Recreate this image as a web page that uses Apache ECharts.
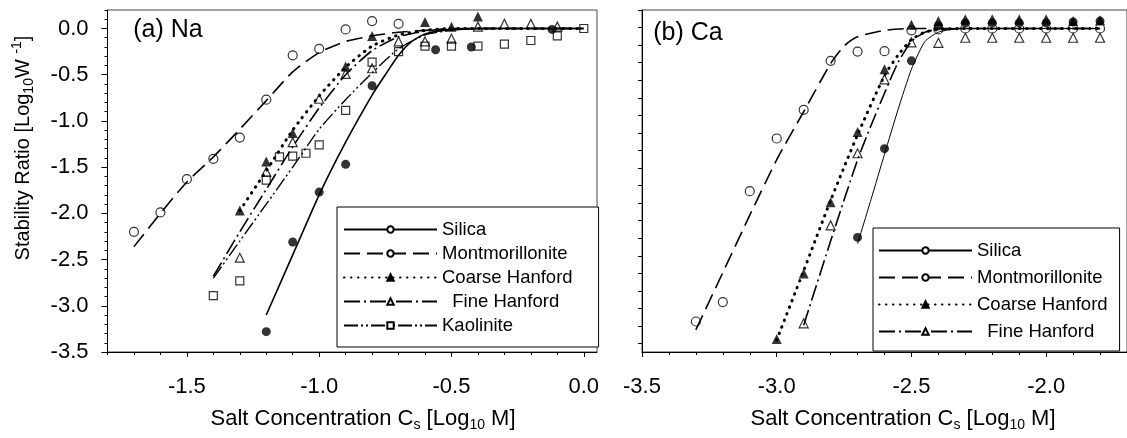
<!DOCTYPE html>
<html>
<head>
<meta charset="utf-8">
<script src="https://cdn.jsdelivr.net/npm/echarts@6/dist/echarts.min.js"></script>
<style>
  html, body { margin: 0; padding: 0; background: #fff; }
  #chart { width: 1127px; height: 438px; }
</style>
</head>
<body>
<div id="chart"></div>
<script>
// ---------- Panel (a): Na ----------
// measured points
const naSilicaX = [-1.2, -1.1, -1.0, -0.9, -0.8, -0.56, -0.425, -0.12];
const naSilicaY = [-3.28, -2.31, -1.77, -1.47, -0.62, -0.23, -0.20, -0.01];
const naMontX = [-1.7, -1.6, -1.5, -1.4, -1.3, -1.2, -1.1, -1.0, -0.9, -0.8, -0.7];
const naMontY = [-2.20, -1.99, -1.63, -1.41, -1.18, -0.77, -0.29, -0.22, -0.01, 0.08, 0.05];
const naCoarseX = [-1.3, -1.2, -1.1, -0.9, -0.8, -0.6, -0.5, -0.4];
const naCoarseY = [-1.97, -1.44, -1.13, -0.41, -0.08, 0.07, 0.02, 0.13];
const naFineX = [-1.3, -1.2, -1.1, -1.0, -0.9, -0.8, -0.7, -0.6, -0.5, -0.4, -0.3, -0.2, -0.1];
const naFineY = [-2.48, -1.55, -1.23, -0.76, -0.49, -0.43, -0.14, -0.14, -0.11, 0.02, 0.05, 0.05, 0.02];
const naKaolX = [-1.4, -1.3, -1.2, -1.15, -1.1, -1.05, -1.0, -0.9, -0.8, -0.7, -0.6, -0.5, -0.4, -0.3, -0.2, -0.1, 0.0];
const naKaolY = [-2.89, -2.73, -1.64, -1.39, -1.38, -1.35, -1.26, -0.885, -0.365, -0.25, -0.19, -0.19, -0.19, -0.17, -0.13, -0.08, 0.0];

// fitted curves
const naSilicaFitX = [-1.2, -1.1, -1.0, -0.9, -0.8, -0.75, -0.7, -0.65, -0.6, -0.5, -0.4, 0.0];
const naSilicaFitY = [-3.10, -2.45, -1.80, -1.23, -0.72, -0.50, -0.29, -0.14, -0.06, -0.01, 0, 0];
const naMontFitX = [-1.7, -1.6, -1.5, -1.4, -1.3, -1.2, -1.1, -1.0, -0.9, -0.8, -0.7, -0.6, -0.5, -0.4, 0.0];
const naMontFitY = [-2.36, -2.00, -1.66, -1.39, -1.09, -0.78, -0.47, -0.26, -0.14, -0.08, -0.04, -0.02, -0.01, 0, 0];
const naCoarseFitX = [-1.3, -1.2, -1.1, -1.0, -0.9, -0.8, -0.7, -0.6, -0.5, 0.0];
const naCoarseFitY = [-1.97, -1.54, -1.10, -0.73, -0.42, -0.19, -0.07, -0.02, 0, 0];
const naFineFitX = [-1.4, -1.3, -1.2, -1.1, -1.0, -0.9, -0.8, -0.7, -0.6, -0.5, 0.0];
const naFineFitY = [-2.68, -2.20, -1.74, -1.28, -0.86, -0.50, -0.24, -0.09, -0.03, 0, 0];
const naKaolFitX = [-1.4, -1.3, -1.2, -1.1, -1.0, -0.9, -0.8, -0.7, -0.6, -0.5, -0.4, 0.0];
const naKaolFitY = [-2.70, -2.30, -1.90, -1.50, -1.09, -0.77, -0.48, -0.22, -0.07, -0.02, 0, 0];

// ---------- Panel (b): Ca ----------
const caSilicaX = [-2.7, -2.6, -2.5, -2.4, -2.3, -2.2, -2.1, -2.0, -1.9, -1.8];
const caSilicaY = [-2.26, -1.30, -0.35, 0.03, 0.06, 0.06, 0.06, 0.06, 0.07, 0.08];
const caMontX = [-3.3, -3.2, -3.1, -3.0, -2.9, -2.8, -2.7, -2.6, -2.5, -2.4, -2.3, -2.2, -2.1, -2.0, -1.9, -1.8];
const caMontY = [-3.17, -2.96, -1.76, -1.19, -0.88, -0.35, -0.25, -0.245, -0.02, -0.01, 0, 0, 0, 0, 0, 0];
const caCoarseX = [-3.0, -2.9, -2.8, -2.7, -2.6, -2.5, -2.4, -2.3, -2.2, -2.1, -2.0, -1.9, -1.8];
const caCoarseY = [-3.36, -2.65, -1.88, -1.12, -0.44, 0.04, 0.08, 0.10, 0.10, 0.10, 0.10, 0.08, 0.09];
const caFineX = [-2.9, -2.8, -2.7, -2.6, -2.5, -2.4, -2.3, -2.2, -2.1, -2.0, -1.9, -1.8];
const caFineY = [-3.19, -2.13, -1.35, -0.55, -0.15, -0.155, -0.10, -0.10, -0.10, -0.10, -0.10, -0.10];

const caSilicaFitX = [-2.7, -2.65, -2.6, -2.55, -2.5, -2.45, -2.4, -2.35, -2.3, -1.8];
const caSilicaFitY = [-2.33, -1.85, -1.36, -0.88, -0.44, -0.14, -0.04, -0.01, 0, 0];
const caMontFitX = [-3.3, -3.2, -3.1, -3.0, -2.9, -2.8, -2.75, -2.7, -2.6, -2.5, -1.8];
const caMontFitY = [-3.26, -2.64, -2.02, -1.42, -0.90, -0.38, -0.19, -0.09, -0.02, 0, 0];
const caCoarseFitX = [-3.0, -2.9, -2.8, -2.7, -2.6, -2.55, -2.5, -2.45, -2.4, -2.3, -1.8];
const caCoarseFitY = [-3.37, -2.62, -1.86, -1.15, -0.51, -0.29, -0.12, -0.04, -0.01, 0, 0];
const caFineFitX = [-2.9, -2.8, -2.7, -2.65, -2.6, -2.55, -2.5, -2.45, -2.4, -2.3, -1.8];
const caFineFitY = [-3.21, -2.30, -1.42, -1.05, -0.70, -0.37, -0.14, -0.04, -0.01, 0, 0];

// ---------- axis ticks ----------
const naMajorX = [-1.5, -1.0, -0.5, 0.0];
const caMajorX = [-3.5, -3.0, -2.5, -2.0];
const majorY = [0.0, -0.5, -1.0, -1.5, -2.0, -2.5, -3.0, -3.5];
const legendNames = ['Silica', 'Montmorillonite', 'Coarse Hanford', 'Fine Hanford', 'Kaolinite'];

function steps(from, to, step) {
  const out = [];
  const n = Math.round((to - from) / step);
  for (let i = 0; i <= n; i++) out.push(+(from + i * step).toFixed(3));
  return out;
}
const naMinorX = steps(-1.8, 0.0, 0.1);
const caMinorX = steps(-3.5, -1.7, 0.1);
const minorY = steps(-3.5, 0.2, 0.1);
const caTickY = [];
for (let k = 0; k <= 19; k++) caTickY.push(+(0.2 - 0.19 * k).toFixed(3));

function pairs(xs, ys) { return xs.map((x, i) => [x, ys[i]]); }

const FONT = '"Liberation Sans", Arial, Helvetica, sans-serif';
const BLACK = '#000';
const HOLLOW = 'rgba(0,0,0,0)';

// line and marker look of each material
const look = {
  'Silica':          { symbol: 'circle',   size: 9,  filled: true,  legendFill: '#fff', dash: 'solid',          width: 1.6, cap: 'butt' },
  'Montmorillonite': { symbol: 'circle',   size: 9,  filled: false, legendFill: '#fff', dash: [16, 7],          width: 1.6, cap: 'butt' },
  'Coarse Hanford':  { symbol: 'triangle', size: 10, filled: true,  legendFill: BLACK,  dash: [0.5, 6.5],       width: 3,   cap: 'round' },
  'Fine Hanford':    { symbol: 'triangle', size: 9,  filled: false, legendFill: '#fff', dash: [16, 4, 2, 4],    width: 1.6, cap: 'butt' },
  'Kaolinite':       { symbol: 'rect',     size: 8,  filled: false, legendFill: '#fff', dash: [14, 3, 2, 3, 2, 3], width: 1.4, cap: 'butt' }
};

function fitSeries(name, xs, ys, axis, widthOverride) {
  const l = look[name];
  return {
    name, type: 'line', xAxisIndex: axis, yAxisIndex: axis,
    data: pairs(xs, ys), smooth: 0.2,
    symbol: l.symbol, showSymbol: false, silent: true,
    lineStyle: { color: BLACK, width: widthOverride || l.width, type: l.dash, cap: l.cap },
    itemStyle: { color: l.legendFill, borderColor: BLACK, borderWidth: 1 },
    z: 3
  };
}
function pointSeries(name, label, xs, ys, axis) {
  const l = look[name];
  return {
    name: label, type: 'scatter', xAxisIndex: axis, yAxisIndex: axis,
    data: pairs(xs, ys), symbol: l.symbol, symbolSize: l.size, silent: true,
    itemStyle: l.filled ? { color: BLACK } : { color: HOLLOW, borderColor: BLACK, borderWidth: 1.2 },
    z: 4
  };
}

const series = [
  fitSeries('Silica', naSilicaFitX, naSilicaFitY, 0),
  fitSeries('Montmorillonite', naMontFitX, naMontFitY, 0),
  fitSeries('Coarse Hanford', naCoarseFitX, naCoarseFitY, 0),
  fitSeries('Fine Hanford', naFineFitX, naFineFitY, 0),
  fitSeries('Kaolinite', naKaolFitX, naKaolFitY, 0),
  pointSeries('Silica', 'Na silica', naSilicaX, naSilicaY, 0),
  pointSeries('Montmorillonite', 'Na montmorillonite', naMontX, naMontY, 0),
  pointSeries('Coarse Hanford', 'Na coarse', naCoarseX, naCoarseY, 0),
  pointSeries('Fine Hanford', 'Na fine', naFineX, naFineY, 0),
  pointSeries('Kaolinite', 'Na kaolinite', naKaolX, naKaolY, 0),
  fitSeries('Silica', caSilicaFitX, caSilicaFitY, 2, 1),
  fitSeries('Montmorillonite', caMontFitX, caMontFitY, 2),
  fitSeries('Coarse Hanford', caCoarseFitX, caCoarseFitY, 2),
  fitSeries('Fine Hanford', caFineFitX, caFineFitY, 2),
  pointSeries('Silica', 'Ca silica', caSilicaX, caSilicaY, 2),
  pointSeries('Montmorillonite', 'Ca montmorillonite', caMontX, caMontY, 2),
  pointSeries('Coarse Hanford', 'Ca coarse', caCoarseX, caCoarseY, 2),
  pointSeries('Fine Hanford', 'Ca fine', caFineX, caFineY, 2)
];

const tickFont = { fontSize: 22, color: BLACK, fontFamily: FONT };
const axisLine = { show: true, onZero: false, lineStyle: { color: BLACK, width: 1 } };

function majorXAxis(grid, min, max, majors) {
  return {
    type: 'value', gridIndex: grid, min, max, position: 'bottom',
    axisLine, splitLine: { show: false },
    axisTick: { show: true, customValues: majors, length: 5, lineStyle: { color: BLACK } },
    axisLabel: Object.assign({ customValues: majors, margin: 24, formatter: v => v.toFixed(1) }, tickFont)
  };
}
function minorAxis(kind, grid, min, max, ticks, len) {
  return {
    type: 'value', gridIndex: grid, min, max,
    position: kind === 'x' ? 'bottom' : 'left',
    axisLine: { show: false, onZero: false }, splitLine: { show: false }, axisLabel: { show: false },
    axisTick: { show: true, customValues: ticks, length: len, lineStyle: { color: BLACK } }
  };
}

const subRich = {
  sub: { fontSize: 14, fontFamily: FONT, color: BLACK, padding: [12, 0, 0, 0] },
  sup: { fontSize: 14, fontFamily: FONT, color: BLACK, padding: [0, 0, 12, 0] }
};
function label(text, x, y, size, extra) {
  return Object.assign({
    type: 'text', x, y, silent: true,
    style: { text, fill: BLACK, font: size + 'px ' + FONT, align: 'center', verticalAlign: 'middle', rich: subRich }
  }, extra || {});
}

function legendBox(left, top, names, gap, pad) {
  return {
    show: true, orient: 'vertical', left, top, data: names,
    backgroundColor: '#fff', borderColor: BLACK, borderWidth: 1, borderRadius: 0,
    padding: pad, itemWidth: 93, itemHeight: 8, itemGap: gap,
    selectedMode: false,
    formatter: n => n === 'Fine Hanford' ? '  ' + n : n,
    textStyle: { fontSize: 18.5, color: BLACK, fontFamily: FONT, lineHeight: 18 }
  };
}

const option = {
  animation: false,
  backgroundColor: '#fff',
  grid: [
    { left: 107.5, top: 10, width: 489.5, height: 342, show: true, borderColor: '#444', borderWidth: 1 },
    { left: 642, top: 10, width: 485, height: 342, show: true, borderColor: '#444', borderWidth: 1 }
  ],
  xAxis: [
    majorXAxis(0, -1.8, 0.05, naMajorX),
    minorAxis('x', 0, -1.8, 0.05, naMinorX, 3),
    majorXAxis(1, -3.5, -1.7, caMajorX),
    minorAxis('x', 1, -3.5, -1.7, caMinorX, 3)
  ],
  yAxis: [
    {
      type: 'value', gridIndex: 0, min: -3.5, max: 0.2, position: 'left',
      axisLine, splitLine: { show: false },
      axisTick: { show: true, customValues: majorY, length: 6, lineStyle: { color: BLACK } },
      axisLabel: Object.assign({ customValues: majorY, margin: 19, formatter: v => v.toFixed(1) }, tickFont)
    },
    minorAxis('y', 0, -3.5, 0.2, minorY, 3),
    {
      type: 'value', gridIndex: 1, min: -3.5, max: 0.2, position: 'left',
      axisLine, splitLine: { show: false }, axisLabel: { show: false },
      axisTick: { show: true, customValues: caTickY, length: 4, lineStyle: { color: BLACK } }
    }
  ],
  legend: [
    legendBox(337, 207, legendNames, 5, [13, 26, 12, 6]),
    legendBox(873, 228, legendNames.slice(0, 4), 8, [13, 12, 10, 5])
  ],
  graphic: [
    label('(a) Na', 168, 30, 25),
    label('(b) Ca', 688, 33, 25),
    label('Salt Concentration C{sub|s} [Log{sub|10} M]', 363, 419, 22),
    label('Salt Concentration C{sub|s} [Log{sub|10} M]', 903, 419, 22),
    label('Stability Ratio [Log{sub|10}W {sup|-1}]', 23, 148, 20, { rotation: Math.PI / 2 })
  ],
  series
};

const chart = echarts.init(document.getElementById('chart'), null, { renderer: 'canvas' });
chart.setOption(option);
</script>
</body>
</html>
